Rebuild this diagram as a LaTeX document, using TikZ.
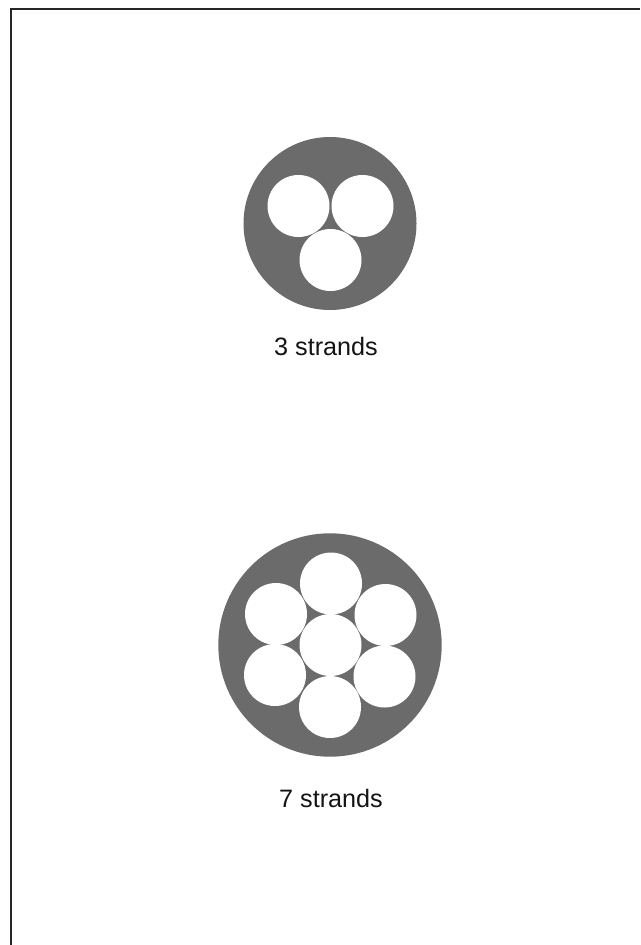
\documentclass[tikz,border=0pt]{standalone}
\usepackage{fontspec}
\setmainfont{Liberation Sans}
\tikzset{
    cable/.style={fill=black!58},
    strand/.style={fill=white},
    caption/.style={font=\fontsize{18.9}{22}\selectfont, text=black!92, inner sep=0pt},
    frameline/.style={line width=1.5pt, draw=black!85}
}
\begin{document}
\begin{tikzpicture}[x=0.75pt, y=-0.75pt]
    \useasboundingbox (0, 0) rectangle (640, 945);
    \fill[white] (0, 0) rectangle (640, 945);
    \draw[frameline] (10.5, 945) -- (10.5, 9.5) -- (640, 9.5); % Marco
    % 3 hilos
    \fill[cable] (330, 223.5) circle (86.5);
    \fill[strand] (298.5, 206) circle (31);
    \fill[strand] (362.5, 206) circle (31);
    \fill[strand] (330.5, 260) circle (31);
    \node[caption] (label3) at (326, 346.5) {3 strands};
    % 7 hilos
    \fill[cable] (330, 645) circle (111.7);
    \fill[strand] (331, 583.5) circle (31);
    \fill[strand] (276, 614) circle (31);
    \fill[strand] (385.5, 615) circle (31);
    \fill[strand] (330.5, 645) circle (31);
    \fill[strand] (275, 675) circle (31);
    \fill[strand] (384.5, 676.5) circle (31);
    \fill[strand] (330, 707) circle (31);
    \node[caption] (label7) at (331, 798.5) {7 strands};
\end{tikzpicture}
\end{document}
